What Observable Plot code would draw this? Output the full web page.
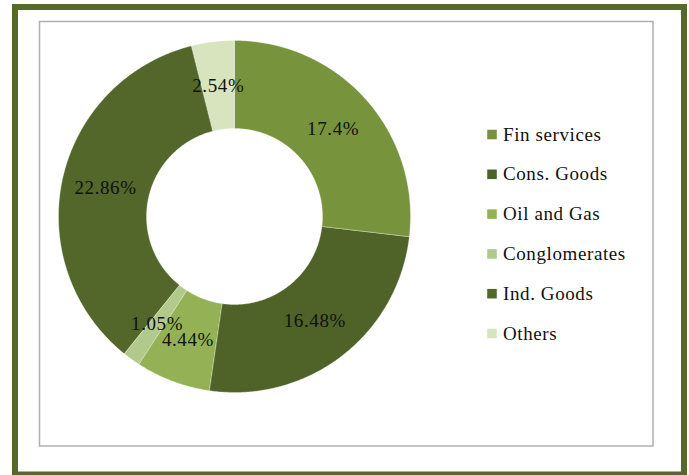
<!DOCTYPE html>
<html><head><meta charset="utf-8">
<script src="https://cdn.jsdelivr.net/npm/d3@7"></script>
<script src="https://cdn.jsdelivr.net/npm/@observablehq/plot@0.6"></script>
<style>html,body{margin:0;padding:0;background:#fff} #chart svg text{letter-spacing:0.6px}</style>
</head><body><div id="chart"></div>
<script>
const sectors = ["Fin services","Cons. Goods","Oil and Gas","Conglomerates","Ind. Goods","Others"];
const shares = [17.4, 16.48, 4.44, 1.05, 22.86, 2.54];
const labels = ["17.4%","16.48%","4.44%","1.05%","22.86%","2.54%"];
const colors = ["#77933c","#4f6228","#94b255","#b1c98b","#526729","#d7e4bd"];

const W = 689, H = 475, cx = 234, cy = 216, R = 176, r0 = 88;
const arcs = d3.pie().sort(null).value(d => d)(shares);

const pts = [];
arcs.forEach((p, i) => {
  const n = Math.max(2, Math.ceil((p.endAngle - p.startAngle) / (Math.PI / 360)));
  for (let k = 0; k <= n; k++) {
    const a = p.startAngle + (p.endAngle - p.startAngle) * k / n;
    pts.push({s: sectors[i], x: cx + R * Math.sin(a), y: cy - R * Math.cos(a)});
  }
  for (let k = n; k >= 0; k--) {
    const a = p.startAngle + (p.endAngle - p.startAngle) * k / n;
    pts.push({s: sectors[i], x: cx + r0 * Math.sin(a), y: cy - r0 * Math.cos(a)});
  }
});
const rm = (R + r0) / 2;
const lab = arcs.map((p, i) => {
  const a = (p.startAngle + p.endAngle) / 2;
  return {t: labels[i], x: cx + rm * Math.sin(a), y: cy - rm * Math.cos(a)};
});
const leg = sectors.map((s, i) => ({s, x: 491.5, y: 134 + i * 39.8}));

const chart = Plot.plot({
  width: W, height: H,
  margin: 0,
  x: {domain: [0, W], range: [0, W], axis: null},
  y: {domain: [0, H], range: [0, H], axis: null},
  color: {domain: sectors, range: colors},
  style: {fontFamily: "'Liberation Serif', serif", background: "white"},
  marks: [
    Plot.rect([{x1: 15, x2: 684, y1: 7, y2: 474.5}], {x1: "x1", x2: "x2", y1: "y1", y2: "y2", fill: "white", stroke: "#55692b", strokeWidth: 6}),
    Plot.rect([{x1: 39.5, x2: 653, y1: 21.5, y2: 446}], {x1: "x1", x2: "x2", y1: "y1", y2: "y2", fill: "white", stroke: "#b0b0b0", strokeWidth: 1.5}),
    Plot.line(pts, {x: "x", y: "y", z: "s", fill: "s", stroke: "#ffffff", strokeWidth: 0.6, strokeOpacity: 0.5, curve: "linear-closed"}),
    Plot.text(lab, {x: "x", y: "y", text: "t", fontSize: 19, fill: "#111"}),
    Plot.dot(leg, {x: "x", y: "y", fill: "s", symbol: "square", r: 5.4}),
    Plot.text(leg, {x: d => d.x + 11, y: "y", text: "s", textAnchor: "start", fontSize: 19, fill: "#111"})
  ]
});
document.getElementById("chart").append(chart);
</script>
</body></html>
